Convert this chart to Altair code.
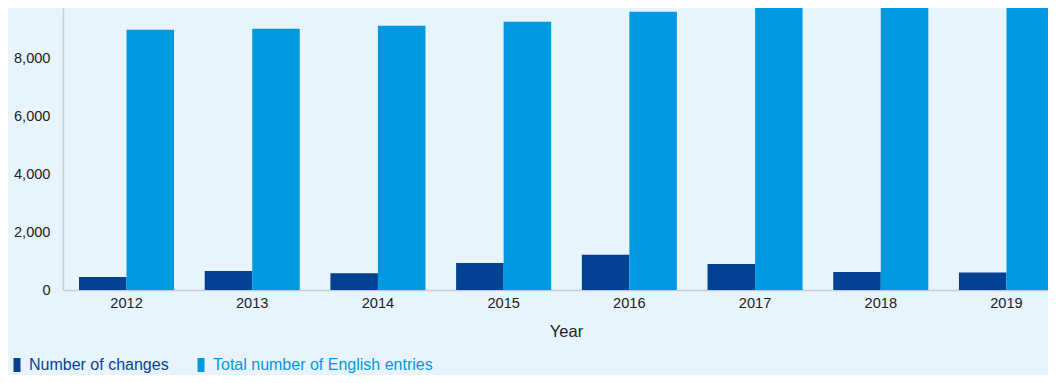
import altair as alt
import pandas as pd

years = ["2012", "2013", "2014", "2015", "2016", "2017", "2018", "2019"]
changes = [450, 658, 578, 935, 1223, 900, 623, 610]
totals = [9006, 9041, 9145, 9283, 9630, 9900, 10100, 10300]
series = ["Number of changes", "Total number of English entries"]
colors = ["#034292", "#0099E1"]
y_ticks = [0, 2000, 4000, 6000, 8000]

rows = []
for i, y in enumerate(years):
    rows.append({"Year": y, "series": series[0], "value": changes[i]})
    rows.append({"Year": y, "series": series[1], "value": totals[i]})
df = pd.DataFrame(rows)

FONT = "Liberation Sans"
BG = "#E8F4FC"
AXIS_COLOR = "#C3CDD7"

label_color_expr = (
    "datum.value == '" + series[0] + "' ? '" + colors[0] + "' : '" + colors[1] + "'"
)

chart = (
    alt.Chart(df)
    .mark_bar(clip=True)
    .encode(
        x=alt.X(
            "Year:N",
            sort=years,
            scale=alt.Scale(paddingInner=0.244, paddingOuter=0.1273, range=[0, 1007]),
            axis=alt.Axis(
                title="Year",
                labelAngle=0,
                ticks=False,
                labelPadding=5,
                labelFontSize=14.6,
                labelColor="#222222",
                labelFont=FONT,
                titleFont=FONT,
                titleFontSize=16.5,
                titleFontWeight="normal",
                titleColor="#222222",
                titlePadding=14,
                titleX=503,
                domainColor=AXIS_COLOR,
                domainWidth=1.5,
            ),
        ),
        xOffset=alt.XOffset(
            "series:N", sort=series, scale=alt.Scale(paddingInner=0, paddingOuter=0)
        ),
        y=alt.Y(
            "value:Q",
            scale=alt.Scale(domain=[0, 9760], nice=False, clamp=False),
            axis=alt.Axis(
                title=None,
                values=y_ticks,
                format=",.0f",
                ticks=False,
                grid=False,
                labelPadding=13,
                labelFontSize=14.6,
                labelColor="#222222",
                labelFont=FONT,
                domainColor=AXIS_COLOR,
                domainWidth=1.5,
            ),
        ),
        color=alt.Color(
            "series:N",
            sort=series,
            scale=alt.Scale(domain=series, range=colors),
            legend=alt.Legend(
                title=None,
                orient="none",
                direction="horizontal",
                legendX=-54,
                legendY=349,
                symbolType="M-0.5,-1L0.5,-1L0.5,1L-0.5,1Z",
                symbolSize=196,
                symbolStrokeWidth=0,
                labelFont=FONT,
                labelFontSize=16,
                labelColor=alt.ExprRef(label_color_expr),
                labelOffset=4,
                columnPadding=24,
                labelLimit=400,
            ),
        ),
    )
    .properties(
        width=985,
        height=282,
        background=BG,
        padding={"left": 55, "top": 0, "right": 0, "bottom": 85},
        autosize=alt.AutoSizeParams(type="none"),
    )
    .configure_view(stroke=None)
)

chart.save("out.html", embed_options={"renderer": "svg", "actions": False})
